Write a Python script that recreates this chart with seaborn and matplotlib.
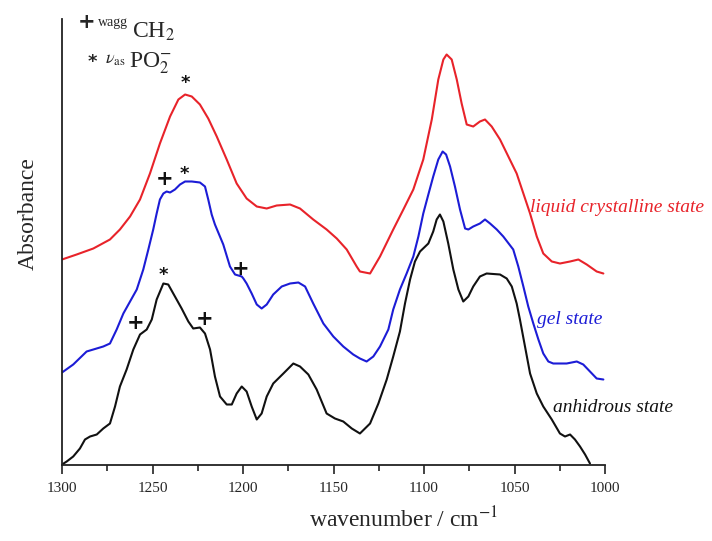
import numpy as np
import pandas as pd
import matplotlib
matplotlib.use("Agg")
import matplotlib.pyplot as plt
from matplotlib.ticker import MultipleLocator
import seaborn as sns

# ---------------- data ----------------
lc_wn = [1300.0, 1291.9, 1282.7, 1273.5, 1268.0, 1262.4, 1256.9, 1251.4, 1245.9, 1240.3,
         1235.7, 1232.0, 1228.3, 1223.8, 1219.2, 1214.5, 1209.0, 1203.5, 1198.0, 1192.4,
         1186.9, 1181.4, 1174.0, 1168.5, 1161.2, 1153.8, 1148.2, 1142.7, 1137.2, 1135.4,
         1129.8, 1124.3, 1117.0, 1111.4, 1105.9, 1100.4, 1095.7, 1092.1, 1089.3, 1087.5,
         1084.7, 1081.9, 1079.2, 1076.4, 1072.8, 1069.1, 1066.3, 1062.6, 1058.0, 1053.4,
         1048.8, 1045.1, 1041.4, 1037.7, 1034.1, 1029.4, 1024.9, 1019.3, 1014.7, 1010.1,
         1004.6, 1000.9]
lc_abs = [2.05, 2.10, 2.16, 2.25, 2.35, 2.48, 2.65, 2.91, 3.21, 3.48,
          3.65, 3.70, 3.68, 3.60, 3.46, 3.28, 3.05, 2.81, 2.66, 2.58,
          2.56, 2.59, 2.60, 2.56, 2.45, 2.35, 2.26, 2.15, 1.98, 1.93,
          1.91, 2.08, 2.35, 2.55, 2.75, 3.05, 3.45, 3.85, 4.05, 4.10,
          4.05, 3.85, 3.61, 3.40, 3.38, 3.43, 3.45, 3.38, 3.25, 3.08,
          2.91, 2.71, 2.51, 2.28, 2.11, 2.03, 2.01, 2.03, 2.05, 2.00,
          1.93, 1.91]

gel_wn = [1300.0, 1293.8, 1286.4, 1282.7, 1277.2, 1273.5, 1269.8, 1266.1, 1262.4, 1258.7,
          1255.1, 1252.3, 1249.6, 1247.7, 1245.9, 1244.0, 1242.2, 1240.3, 1237.6, 1234.8,
          1232.0, 1228.3, 1223.8, 1221.0, 1219.2, 1217.3, 1215.5, 1210.9, 1207.2, 1204.4,
          1200.7, 1199.8, 1198.0, 1195.2, 1192.4, 1189.7, 1186.9, 1183.3, 1178.6, 1174.0,
          1169.4, 1165.7, 1161.2, 1155.6, 1150.1, 1144.6, 1139.1, 1135.4, 1131.7, 1128.0,
          1124.3, 1119.7, 1117.0, 1113.3, 1109.6, 1105.9, 1103.1, 1100.4, 1097.6, 1094.9,
          1092.1, 1089.7, 1087.8, 1085.6, 1082.9, 1080.1, 1077.3, 1075.5, 1072.8, 1069.1,
          1066.3, 1063.5, 1059.8, 1056.2, 1050.7, 1047.9, 1045.1, 1042.4, 1039.6, 1036.8,
          1034.1, 1031.3, 1028.6, 1021.2, 1015.6, 1012.0, 1008.3, 1004.6, 1000.9]
gel_abs = [0.92, 1.00, 1.13, 1.15, 1.18, 1.21, 1.35, 1.51, 1.63, 1.75,
           1.95, 2.15, 2.35, 2.51, 2.65, 2.71, 2.73, 2.72, 2.75, 2.80,
           2.83, 2.83, 2.82, 2.78, 2.65, 2.50, 2.40, 2.20, 1.98, 1.90,
           1.88, 1.86, 1.81, 1.71, 1.60, 1.56, 1.60, 1.70, 1.78, 1.81,
           1.82, 1.78, 1.61, 1.41, 1.28, 1.18, 1.10, 1.06, 1.03, 1.08,
           1.18, 1.35, 1.55, 1.75, 1.91, 2.08, 2.28, 2.51, 2.70, 2.88,
           3.05, 3.13, 3.10, 2.98, 2.78, 2.55, 2.36, 2.35, 2.38, 2.41,
           2.45, 2.41, 2.35, 2.28, 2.15, 1.98, 1.78, 1.58, 1.41, 1.25,
           1.11, 1.03, 1.01, 1.01, 1.03, 1.00, 0.93, 0.86, 0.85]

anh_wn = [1300.0, 1297.4, 1293.8, 1290.1, 1287.3, 1284.5, 1280.8, 1277.2, 1273.5, 1270.7,
          1268.0, 1264.3, 1260.6, 1256.9, 1253.2, 1250.4, 1247.7, 1244.0, 1241.3, 1237.6,
          1233.9, 1230.2, 1227.5, 1223.8, 1221.0, 1218.2, 1215.5, 1212.7, 1209.0, 1206.2,
          1203.5, 1200.7, 1198.0, 1195.2, 1192.4, 1189.7, 1186.9, 1183.3, 1177.7, 1172.2,
          1168.5, 1163.9, 1159.3, 1153.8, 1149.2, 1144.6, 1139.9, 1135.4, 1129.8, 1125.2,
          1120.6, 1117.0, 1113.3, 1110.5, 1107.7, 1105.0, 1102.2, 1097.6, 1094.9, 1093.0,
          1091.2, 1089.3, 1086.6, 1083.8, 1081.0, 1078.3, 1075.5, 1072.8, 1069.1, 1065.4,
          1058.0, 1054.3, 1051.5, 1048.8, 1047.0, 1044.2, 1041.4, 1037.7, 1034.1, 1029.4,
          1024.9, 1022.1, 1019.3, 1016.6, 1013.8, 1011.0, 1008.3]
anh_abs = [0.00, 0.03, 0.08, 0.16, 0.25, 0.28, 0.30, 0.36, 0.41, 0.58,
           0.78, 0.95, 1.15, 1.30, 1.35, 1.45, 1.65, 1.81, 1.80, 1.68,
           1.56, 1.43, 1.36, 1.37, 1.31, 1.15, 0.88, 0.68, 0.60, 0.60,
           0.71, 0.78, 0.73, 0.58, 0.45, 0.51, 0.68, 0.81, 0.91, 1.01,
           0.98, 0.90, 0.75, 0.51, 0.46, 0.43, 0.36, 0.31, 0.41, 0.61,
           0.85, 1.08, 1.33, 1.61, 1.85, 2.03, 2.13, 2.21, 2.33, 2.45,
           2.50, 2.43, 2.21, 1.95, 1.75, 1.63, 1.68, 1.78, 1.88, 1.91,
           1.90, 1.86, 1.78, 1.61, 1.45, 1.18, 0.91, 0.71, 0.58, 0.45,
           0.31, 0.28, 0.30, 0.25, 0.18, 0.10, 0.01]

# band markers: symbol, wavenumber, absorbance
mark_sym = ["*", "+", "*", "+", "*", "+", "+"]
mark_wn = [1232.0, 1243.1, 1232.6, 1201.1, 1244.2, 1259.1, 1221.0]
mark_abs = [3.815, 2.855, 2.905, 1.955, 1.895, 1.415, 1.455]

state_labels = ["liquid crystalline state", "gel state", "anhidrous state"]
state_colors = ["#e8232a", "#1c1cd6", "#111111"]
state_wn = [1041.4, 1037.6, 1028.7]
state_abs = [2.575, 1.445, 0.565]

xticks = [1300, 1250, 1200, 1150, 1100, 1050, 1000]

# ---------------- plotting ----------------
sns.set_style("ticks")
plt.rcParams["font.family"] = ["Liberation Serif", "DejaVu Serif"]
plt.rcParams["mathtext.fontset"] = "stix"

fig = plt.figure(figsize=(7.12, 5.41), dpi=100)
W, H = 712, 541
ax = fig.add_axes([62 / W, 1 - 464.5 / H, (605 - 62) / W, (464.5 - 19) / H])

frames = []
for lab, wn, ab in [(state_labels[0], lc_wn, lc_abs),
                    (state_labels[1], gel_wn, gel_abs),
                    (state_labels[2], anh_wn, anh_abs)]:
    frames.append(pd.DataFrame({"wn": wn, "abs": ab, "state": lab}))
df = pd.concat(frames, ignore_index=True)

sns.lineplot(data=df, x="wn", y="abs", hue="state", hue_order=state_labels,
             palette=state_colors, estimator=None, sort=False, linewidth=1.5,
             legend=False, ax=ax, solid_joinstyle="round", solid_capstyle="round")

ax.set_xlim(1300, 1000)
ax.set_ylim(0, 4.455)
ax.set_xticks(xticks)
ax.set_xticklabels([str(t) for t in xticks])
ax.xaxis.set_minor_locator(MultipleLocator(25))
ax.set_yticks([])
ax.set_xlabel("")
ax.set_ylabel("")
sns.despine(ax=ax)
for s in ["left", "bottom"]:
    ax.spines[s].set_linewidth(1.3)
    ax.spines[s].set_color("#222222")
ax.tick_params(axis="x", which="major", direction="out", length=6.5, width=1.2,
               labelsize=11, pad=6, color="#222222")
ax.tick_params(axis="x", which="minor", direction="out", length=4, width=1.2,
               color="#222222")

for sym, wn, ab in zip(mark_sym, mark_wn, mark_abs):
    if sym == "+":
        ax.text(wn, ab, "+", ha="center", va="center", fontsize=15,
                fontweight="bold", family="DejaVu Sans", color="#111111")
    else:
        ax.text(wn, ab, "*", ha="center", va="center", fontsize=13,
                fontweight="bold", color="#111111", family="DejaVu Sans")

for lab, col, wn, ab in zip(state_labels, state_colors, state_wn, state_abs):
    ax.text(wn, ab, lab, color=col, fontsize=14, style="italic",
            ha="left", va="center", clip_on=False)

# legend-like annotation at top left
fig.text(87 / W, 1 - 22 / H, "+", ha="center", va="center", fontsize=15,
         fontweight="bold", family="DejaVu Sans")
fig.text(98 / W, 1 - 26 / H, "wagg", ha="left", va="baseline", fontsize=10)
fig.text(132 / W, 1 - 38 / H, r"CH$_2$", ha="left", va="baseline", fontsize=17)
fig.text(92 / W, 1 - 62 / H, "*", ha="center", va="center", fontsize=13,
         fontweight="bold", family="DejaVu Sans")
fig.text(105 / W, 1 - 64 / H, r"$\nu_{\mathrm{as}}$", ha="left", va="baseline",
         fontsize=13)
fig.text(129 / W, 1 - 67 / H, r"PO$_2^{-}$", ha="left", va="baseline",
         fontsize=17)

fig.text(404 / W, 1 - 520 / H, r"wavenumber / cm$^{-1}$", ha="center",
         va="center", fontsize=17)
fig.text(28 / W, 1 - 214 / H, "Absorbance", ha="center", va="center",
         rotation=90, fontsize=17)

fig.savefig("out.png", dpi=100)
